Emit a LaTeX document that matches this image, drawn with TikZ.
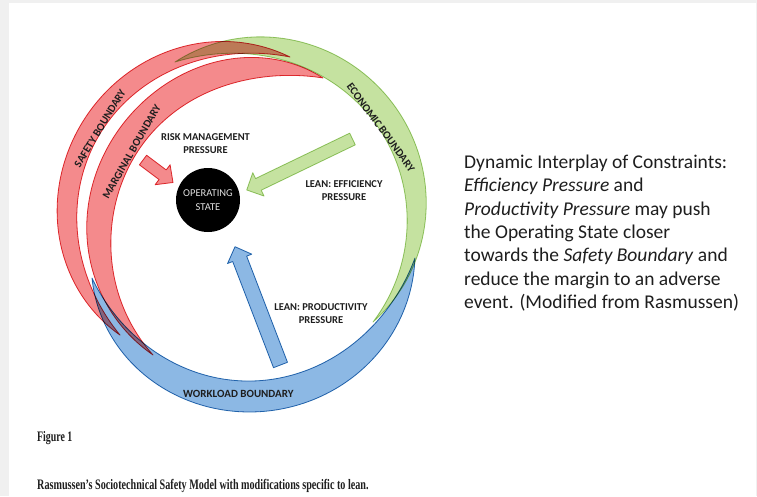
\documentclass[tikz,border=0pt]{standalone}
\usepackage{fontspec}
\setmainfont{Carlito}
\newfontfamily\capfont{Liberation Serif}
\usetikzlibrary{calc}
\definecolor{bggray}{RGB}{240,240,240}
\definecolor{redfill}{RGB}{244,138,140}
\definecolor{redline}{RGB}{226,52,58}
\definecolor{greenfill}{RGB}{197,226,160}
\definecolor{greenline}{RGB}{160,205,115}
\definecolor{bluefill}{RGB}{140,184,228}
\definecolor{blueline}{RGB}{46,117,182}
\definecolor{txt}{RGB}{30,30,30}
\tikzset{
  declare function={
    bt(\ang)=(\ang-\bA)/(\bB-\bA);
    bv(\ang)=bt(\ang)+\bsk*bt(\ang)*(1-bt(\ang));
    bs(\ang)=sin(180*bv(\ang));
    brc(\ang)=\bra+(\brb-\bra)*bt(\ang)+\bbump*sin(180*bt(\ang));
    bhw(\ang)=\bw/2*bs(\ang)*(1+\bq*(1-bs(\ang)));
  },
  bandred/.style={fill=redfill, draw=redline, line width=0.8pt, line join=round},
  bandgreen/.style={fill=greenfill, draw=greenline, line width=0.8pt, line join=round},
  bandblue/.style={fill=bluefill, draw=blueline, line width=0.8pt, line join=round},
  lbl/.style={font=\fontsize{10.5}{13.3}\selectfont\bfseries, text=txt, align=center, inner sep=0pt},
  bnd/.style={font=\fontsize{11}{13}\selectfont\bfseries, text=txt, inner sep=0pt},
}
\newcommand\setband[8]{\def\bA{#1}\def\bB{#2}\def\bra{#3}\def\brb{#4}\def\bbump{#5}\def\bw{#6}\def\bq{#7}\def\bsk{#8}\def\bcx{243}\def\bcy{224}}
\newcommand\drawband[1]{\path[#1]
  plot[domain=\bA:\bB, samples=140, variable=\ang] ({\bcx+(brc(\ang)+bhw(\ang))*cos(\ang)},{\bcy-(brc(\ang)+bhw(\ang))*sin(\ang)})
  -- plot[domain=\bB:\bA, samples=140, variable=\ang] ({\bcx+(brc(\ang)-bhw(\ang))*cos(\ang)},{\bcy-(brc(\ang)-bhw(\ang))*sin(\ang)})
  -- cycle;}
% #1 style, #2 tail, #3 tip, #4 shaft half width, #5 head half width, #6 head length
\newcommand\drawblockarrow[6]{\path[#1] (#3)
  -- ($(#3)!#6!(#2)!#5!90:(#3)$)
  -- ($(#3)!#6!(#2)!#4!90:(#3)$)
  -- ($(#2)!#4!90:(#3)$)
  -- ($(#2)!#4!-90:(#3)$)
  -- ($(#3)!#6!(#2)!#4!-90:(#3)$)
  -- ($(#3)!#6!(#2)!#5!-90:(#3)$)
  -- cycle;}
\begin{document}
\begin{tikzpicture}[x=1pt,y=-1pt]
\useasboundingbox (0,0) rectangle (757,496);
\fill[bggray] (0,0) rectangle (757,496);
\fill[white] (9,3) rectangle (756,496);

\begin{scope}[blend mode=multiply]
  % safety boundary
  \setband{74.3}{222.1}{173.5}{165.7}{10}{21}{0.8}{0}
  \drawband{bandred}
  % marginal boundary
  \setband{61.3}{235.5}{166.5}{158.9}{-21}{28}{0.9}{0.3}
  \drawband{bandred}
  % economic boundary
  \setband{112.8}{-37}{175.7}{162.8}{10}{26}{0.3}{0.2}
  \drawband{bandgreen}
  % workload boundary
  \setband{199.7}{348.8}{160.4}{175.3}{5}{31}{0.5}{0}
  \drawband{bandblue}

  \coordinate (rtail) at (143,160);
  \coordinate (rtip) at (173,182.5);
  \coordinate (gtail) at (352.5,139);
  \coordinate (gtip) at (246.7,190);
  \coordinate (btail) at (280.5,365);
  \coordinate (btip) at (235,246.7);
  \drawblockarrow{bandred}{rtail}{rtip}{6pt}{12.5pt}{13pt}
  \drawblockarrow{bandgreen}{gtail}{gtip}{6.5pt}{13pt}{13pt}
  \drawblockarrow{bandblue}{btail}{btip}{7.5pt}{13pt}{13pt}
\end{scope}

\node[circle, fill=black, minimum size=64pt, inner sep=0pt, text=black!12,
      font=\fontsize{10.5}{14}\selectfont, align=center] (os) at (208,200) {OPERATING\\STATE};

\node[lbl] (risklbl) at (205.5,143.5) {RISK MANAGEMENT\\PRESSURE};
\node[lbl] (efflbl) at (344,190.5) {LEAN: EFFICIENCY\\PRESSURE};
\node[lbl] (prodlbl) at (321,313.5) {LEAN: PRODUCTIVITY\\PRESSURE};

\node[bnd, rotate=58.7] (safetylbl) at (100,128.3) {SAFETY BOUNDARY};
\node[bnd, rotate=60.3] (marglbl) at (131.7,151.7) {MARGINAL BOUNDARY};
\node[bnd, rotate=-53.7] (econlbl) at (380.8,127.5) {ECONOMIC BOUNDARY};
\node[bnd] (worklbl) at (238.3,393.5) {WORKLOAD BOUNDARY};

\node[anchor=north west, align=left, inner sep=0pt, text=txt,
      font=\fontsize{19.5}{23.4}\selectfont] (desc) at (464,154.5)
  {Dynamic Interplay of Constraints:\\
   \textit{Efficiency Pressure} and\\
   \textit{Productivity Pressure} may push\\
   the Operating State closer\\
   towards the \textit{Safety Boundary} and\\
   reduce the margin to an adverse\\
   event. (Modified from Rasmussen)};

\node[anchor=west, inner sep=0pt, text=txt] (fig) at (37,438)
  {\scalebox{0.68}[1]{\capfont\bfseries\fontsize{14.5}{16}\selectfont Figure 1}};
\node[anchor=west, inner sep=0pt, text=txt] (cap) at (37,486)
  {\scalebox{0.70}[1]{\capfont\bfseries\fontsize{14.5}{16}\selectfont Rasmussen’s Sociotechnical Safety Model with modifications specific to lean.}};
\end{tikzpicture}
\end{document}
